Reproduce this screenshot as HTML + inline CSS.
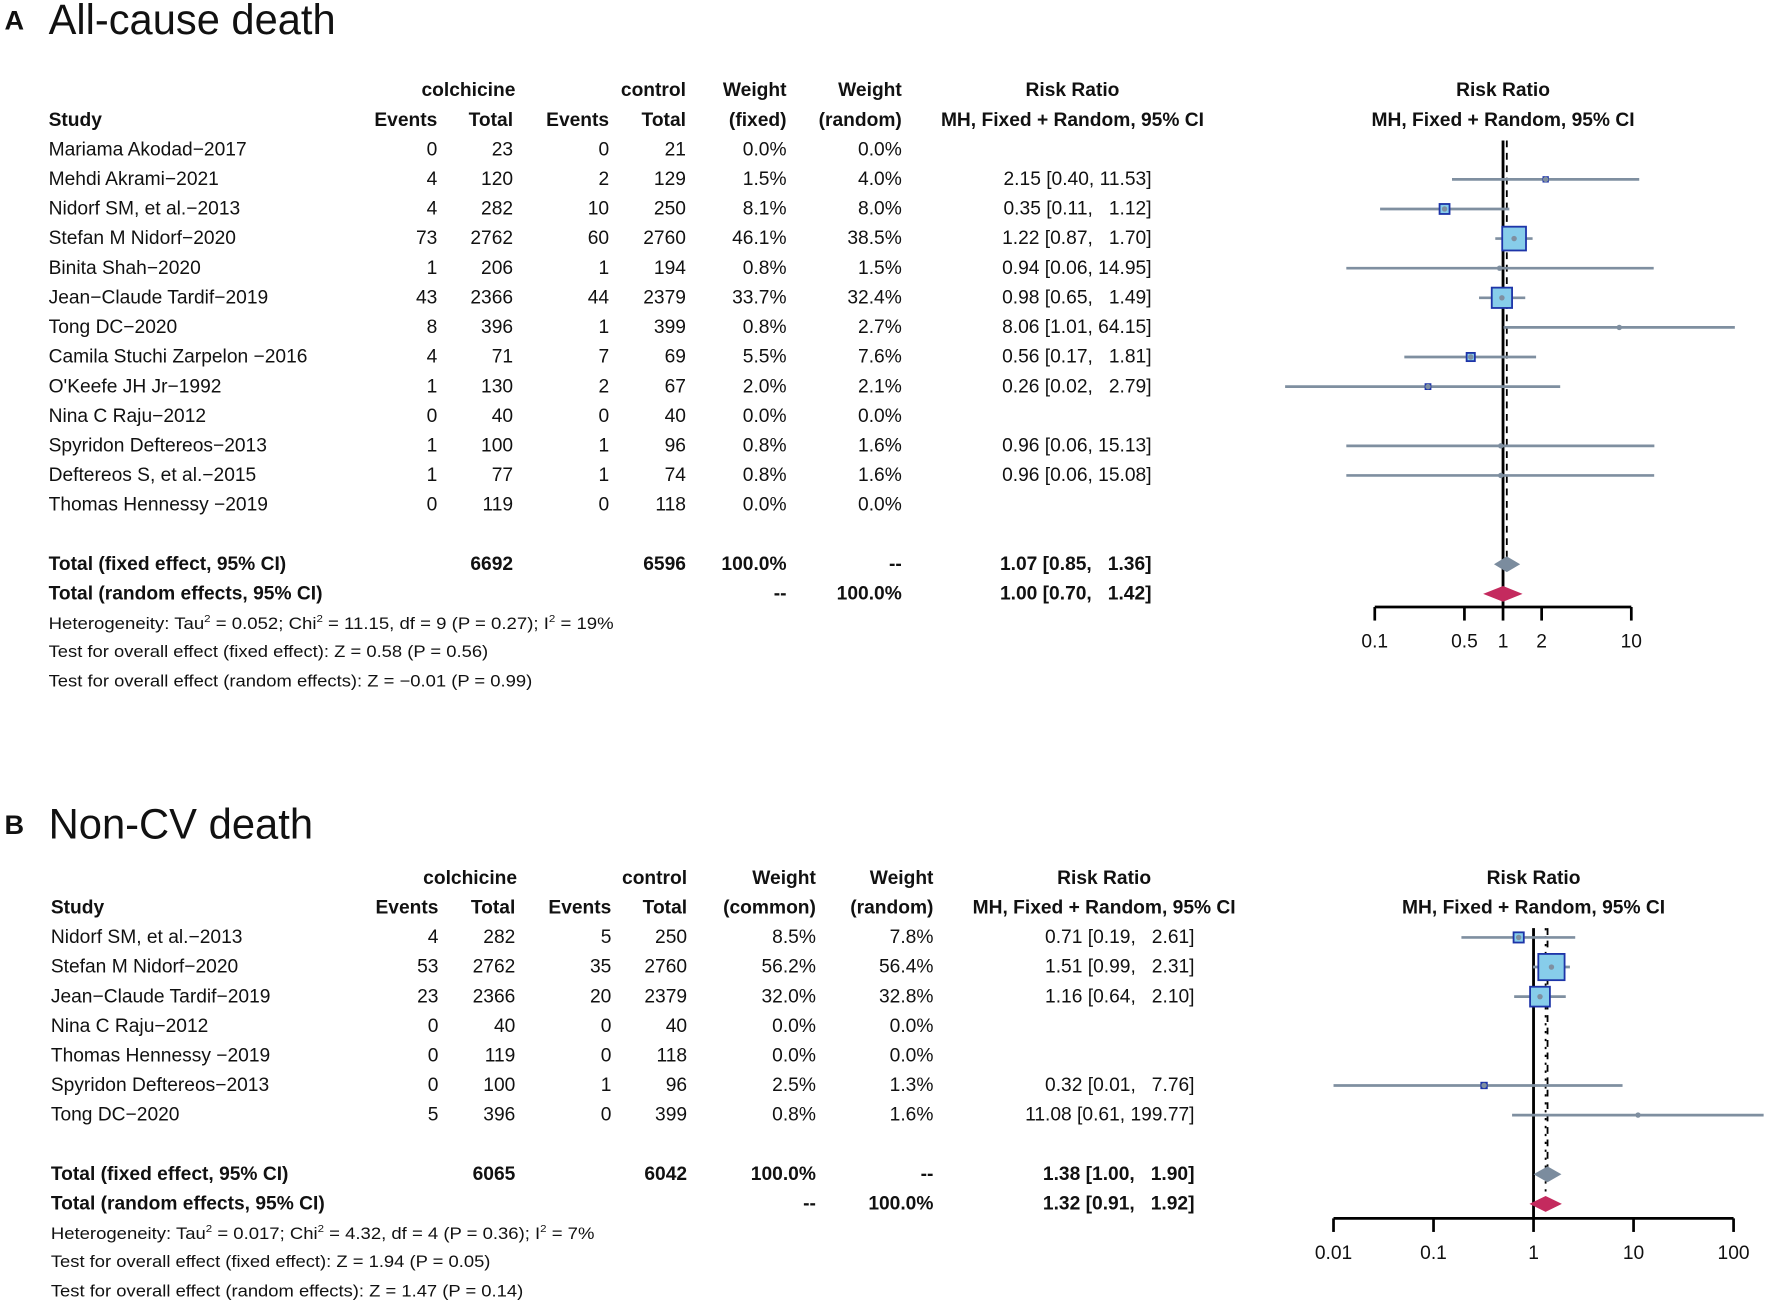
<!DOCTYPE html>
<html><head><meta charset="utf-8"><style>
html,body{margin:0;padding:0;background:#fff;}
svg{display:block;font-family:"Liberation Sans",Arial,sans-serif;}
</style></head><body>
<svg id="fig" width="1772" height="1301" viewBox="0 0 1568 1151" xmlns="http://www.w3.org/2000/svg"></svg>
<script>
// ---- Panel A data ----
const aStudies=["Mariama Akodad\u22122017","Mehdi Akrami\u22122021","Nidorf SM, et al.\u22122013","Stefan M Nidorf\u22122020","Binita Shah\u22122020","Jean\u2212Claude Tardif\u22122019","Tong DC\u22122020","Camila Stuchi Zarpelon \u22122016","O'Keefe JH Jr\u22121992","Nina C Raju\u22122012","Spyridon Deftereos\u22122013","Deftereos S, et al.\u22122015","Thomas Hennessy \u22122019"];
const aEvT=[0,4,4,73,1,43,8,4,1,0,1,1,0];
const aTotT=[23,120,282,2762,206,2366,396,71,130,40,100,77,119];
const aEvC=[0,2,10,60,1,44,1,7,2,0,1,1,0];
const aTotC=[21,129,250,2760,194,2379,399,69,67,40,96,74,118];
const aWf=[0,1.5,8.1,46.1,0.8,33.7,0.8,5.5,2.0,0,0.8,0.8,0];
const aWr=[0,4.0,8.0,38.5,1.5,32.4,2.7,7.6,2.1,0,1.6,1.6,0];
const aRR=[null,2.15,0.35,1.22,0.94,0.98,8.06,0.56,0.26,null,0.96,0.96,null];
const aLo=[null,0.40,0.11,0.87,0.06,0.65,1.01,0.17,0.02,null,0.06,0.06,null];
const aHi=[null,11.53,1.12,1.70,14.95,1.49,64.15,1.81,2.79,null,15.13,15.08,null];
const aFixed=[1.07,0.85,1.36];
const aRandom=[1.00,0.70,1.42];
const aTicks=[0.1,0.5,1,2,10];
// ---- Panel B data ----
const bStudies=["Nidorf SM, et al.\u22122013","Stefan M Nidorf\u22122020","Jean\u2212Claude Tardif\u22122019","Nina C Raju\u22122012","Thomas Hennessy \u22122019","Spyridon Deftereos\u22122013","Tong DC\u22122020"];
const bEvT=[4,53,23,0,0,0,5];
const bTotT=[282,2762,2366,40,119,100,396];
const bEvC=[5,35,20,0,0,1,0];
const bTotC=[250,2760,2379,40,118,96,399];
const bWf=[8.5,56.2,32.0,0,0,2.5,0.8];
const bWr=[7.8,56.4,32.8,0,0,1.3,1.6];
const bRR=[0.71,1.51,1.16,null,null,0.32,11.08];
const bLo=[0.19,0.99,0.64,null,null,0.01,0.61];
const bHi=[2.61,2.31,2.10,null,null,7.76,199.77];
const bFixed=[1.38,1.00,1.90];
const bRandom=[1.32,0.91,1.92];
const bTicks=[0.01,0.1,1,10,100];

const svg=document.getElementById('fig');
const NS='http://www.w3.org/2000/svg';
function mk(tag,attrs,name,txt){const e=document.createElementNS(NS,tag);for(const k in attrs)e.setAttribute(k,attrs[k]);


if(txt!==undefined)e.textContent=txt;svg.appendChild(e);return e;}
function T(x,y,s,name,o){o=o||{};const a={x:x,y:y,'font-size':o.fs||17,fill:'#111'};if(o.b)a['font-weight']='bold';if(o.anchor)a['text-anchor']=o.anchor;if(o.tl){a.textLength=o.tl;a.lengthAdjust='spacingAndGlyphs';}return mk('text',a,name,s);}
function f1(v){return v.toFixed(1)+'%';}
function f2(v){return v.toFixed(2);}
function ci(r,l,h){const hs=h.toFixed(2);const pad=hs.length<5?'\u2007':'';return f2(r)+' ['+f2(l)+', '+pad+hs+']';}

function panel(P){
  T(4,P.titleY-4,P.letter,'panel-letter-'+P.letter,{fs:24,b:true});
  T(43,P.titleY,P.title,'panel-title-'+P.letter,{fs:38,tl:P.titleW});
  const c=P.cols, h1=P.h1, h2=h1+26.2;
  T((c.ev+c.tot)/2-6,h1,'colchicine','header-colchicine',{b:true,anchor:'middle'});
  T(c.ctot,h1,'control','header-control',{b:true,anchor:'end'});
  T(c.wf,h1,'Weight','header-weight-fixed',{b:true,anchor:'end'});
  T(c.wr,h1,'Weight','header-weight-random',{b:true,anchor:'end'});
  T(c.rrc,h1,'Risk Ratio','header-risk-ratio',{b:true,anchor:'middle'});
  T(c.fx,h1,'Risk Ratio','plot-header-risk-ratio',{b:true,anchor:'middle'});
  T(c.study,h2,'Study','header-study',{b:true});
  T(c.ev,h2,'Events','header-events-treat',{b:true,anchor:'end'});
  T(c.tot,h2,'Total','header-total-treat',{b:true,anchor:'end'});
  T(c.cev,h2,'Events','header-events-control',{b:true,anchor:'end'});
  T(c.ctot,h2,'Total','header-total-control',{b:true,anchor:'end'});
  T(c.wf,h2,P.wfLabel,'header-weight-fixed-2',{b:true,anchor:'end'});
  T(c.wr,h2,'(random)','header-weight-random-2',{b:true,anchor:'end'});
  T(c.rrc,h2,'MH, Fixed + Random, 95% CI','header-ci',{b:true,anchor:'middle'});
  T(c.fx,h2,'MH, Fixed + Random, 95% CI','plot-header-ci',{b:true,anchor:'middle'});
  const X=v=>P.x1+P.ppd*Math.log10(v);
  const rowY=i=>h2+26.2*(i+1);
  const n=P.st.length;
  const totY1=rowY(n)+26.2, totY2=totY1+26.2;
  // reference lines
  mk('line',{x1:X(1),x2:X(1),y1:h2+13,y2:P.axisY,stroke:'#000','stroke-width':2.5},'null-effect-line');
  mk('line',{x1:X(P.fixed[0]),x2:X(P.fixed[0]),y1:h2+13,y2:totY1-8,stroke:'#000','stroke-width':1.6,'stroke-dasharray':'6 5'},'fixed-effect-line');
  mk('line',{x1:X(P.random[0]),x2:X(P.random[0]),y1:h2+13,y2:totY2-8,stroke:'#000','stroke-width':1.6,'stroke-dasharray':'2 5'},'random-effect-line');
  for(let i=0;i<n;i++){
    const y=rowY(i)-5, ty=rowY(i);
    T(c.study,ty,P.st[i],'study-name');
    T(c.ev,ty,String(P.evT[i]),'events-treat',{anchor:'end'});
    T(c.tot,ty,String(P.totT[i]),'total-treat',{anchor:'end'});
    T(c.cev,ty,String(P.evC[i]),'events-control',{anchor:'end'});
    T(c.ctot,ty,String(P.totC[i]),'total-control',{anchor:'end'});
    T(c.wf,ty,f1(P.wf[i]),'weight-fixed',{anchor:'end'});
    T(c.wr,ty,f1(P.wr[i]),'weight-random',{anchor:'end'});
    if(P.rr[i]!==null){
      T(c.rre,ty,ci(P.rr[i],P.lo[i],P.hi[i]),'risk-ratio-ci',{anchor:'end'});
      mk('line',{x1:X(P.lo[i]),x2:Math.min(X(P.hi[i]),1568),y1:y,y2:y,stroke:'#7f8fa0','stroke-width':2.4},'ci-line');
      const s=Math.max(4,3.1*Math.sqrt(P.wf[i]));
      if(P.wf[i]>=1) mk('rect',{x:X(P.rr[i])-s/2,y:y-s/2,width:s,height:s,fill:'#87cdea',stroke:'#1d34a8','stroke-width':1.6},'study-square');
      mk('circle',{cx:X(P.rr[i]),cy:y,r:2.4,fill:'#7f8fa0'},'point-estimate');
    }
  }
  T(c.study,totY1,'Total (fixed effect, 95% CI)','total-fixed-label',{b:true});
  T(c.tot,totY1,String(P.sumT),'total-fixed-treat',{b:true,anchor:'end'});
  T(c.ctot,totY1,String(P.sumC),'total-fixed-control',{b:true,anchor:'end'});
  T(c.wf,totY1,'100.0%','total-fixed-weight',{b:true,anchor:'end'});
  T(c.wr,totY1,'--','total-fixed-weight-random',{b:true,anchor:'end'});
  T(c.rre,totY1,ci(P.fixed[0],P.fixed[1],P.fixed[2]),'total-fixed-ci',{b:true,anchor:'end'});
  T(c.study,totY2,'Total (random effects, 95% CI)','total-random-label',{b:true});
  T(c.wf,totY2,'--','total-random-weight-fixed',{b:true,anchor:'end'});
  T(c.wr,totY2,'100.0%','total-random-weight',{b:true,anchor:'end'});
  T(c.rre,totY2,ci(P.random[0],P.random[1],P.random[2]),'total-random-ci',{b:true,anchor:'end'});
  const dia=(v,yy,col,name)=>{const y=yy-5;mk('polygon',{points:`${X(v[1])},${y} ${X(v[0])},${y-7} ${X(v[2])},${y} ${X(v[0])},${y+7}`,fill:col},name);};
  dia(P.fixed,totY1,'#7b8c9e','fixed-diamond');
  dia(P.random,totY2,'#c42a5e','random-diamond');
  // axis
  const t0=X(P.ticks[0]),t1=X(P.ticks[P.ticks.length-1]);
  mk('line',{x1:t0,x2:t1,y1:P.axisY,y2:P.axisY,stroke:'#000','stroke-width':2.4},'x-axis-line');
  P.ticks.forEach(t=>{mk('line',{x1:X(t),x2:X(t),y1:P.axisY,y2:P.axisY+12,stroke:'#000','stroke-width':2.4},'x-tick');
    T(X(t),P.axisY+36,String(t),'x-tick-label',{anchor:'middle',fs:17});});
  // notes
  const ny=totY2+26;
  const het=T(c.study,ny,'','heterogeneity-note',{fs:14.5,tl:P.hetW});
  het.innerHTML=P.het;
  T(c.study,ny+25,P.t1,'test-fixed-note',{fs:14.5,tl:P.t1W});
  T(c.study,ny+51,P.t2,'test-random-note',{fs:14.5,tl:P.t2W});
}
panel({letter:'A',title:'All-cause death',titleY:30,titleW:254,h1:85,
  cols:{study:43,ev:387,tot:454,cev:539,ctot:607,wf:696,wr:798,rre:1019,rrc:949,fx:1330},
  wfLabel:'(fixed)',st:aStudies,evT:aEvT,totT:aTotT,evC:aEvC,totC:aTotC,wf:aWf,wr:aWr,rr:aRR,lo:aLo,hi:aHi,
  fixed:aFixed,random:aRandom,sumT:6692,sumC:6596,ticks:aTicks,x1:1330,ppd:113.5,axisY:537,
  het:'Heterogeneity: Tau<tspan dy="-6" font-size="9">2</tspan><tspan dy="6"> = 0.052; Chi</tspan><tspan dy="-6" font-size="9">2</tspan><tspan dy="6"> = 11.15, df = 9 (P = 0.27); I</tspan><tspan dy="-6" font-size="9">2</tspan><tspan dy="6"> = 19%</tspan>',hetW:500,
  t1:'Test for overall effect (fixed effect): Z = 0.58 (P = 0.56)',t1W:389,
  t2:'Test for overall effect (random effects): Z = \u22120.01 (P = 0.99)',t2W:428});
panel({letter:'B',title:'Non-CV death',titleY:742,titleW:234,h1:782,
  cols:{study:45,ev:388,tot:456,cev:541,ctot:608,wf:722,wr:826,rre:1057,rrc:977,fx:1357},
  wfLabel:'(common)',st:bStudies,evT:bEvT,totT:bTotT,evC:bEvC,totC:bTotC,wf:bWf,wr:bWr,rr:bRR,lo:bLo,hi:bHi,
  fixed:bFixed,random:bRandom,sumT:6065,sumC:6042,ticks:bTicks,x1:1357,ppd:88.5,axisY:1078,
  het:'Heterogeneity: Tau<tspan dy="-6" font-size="9">2</tspan><tspan dy="6"> = 0.017; Chi</tspan><tspan dy="-6" font-size="9">2</tspan><tspan dy="6"> = 4.32, df = 4 (P = 0.36); I</tspan><tspan dy="-6" font-size="9">2</tspan><tspan dy="6"> = 7%</tspan>',hetW:481,
  t1:'Test for overall effect (fixed effect): Z = 1.94 (P = 0.05)',t1W:389,
  t2:'Test for overall effect (random effects): Z = 1.47 (P = 0.14)',t2W:418});
</script>
</body></html>
